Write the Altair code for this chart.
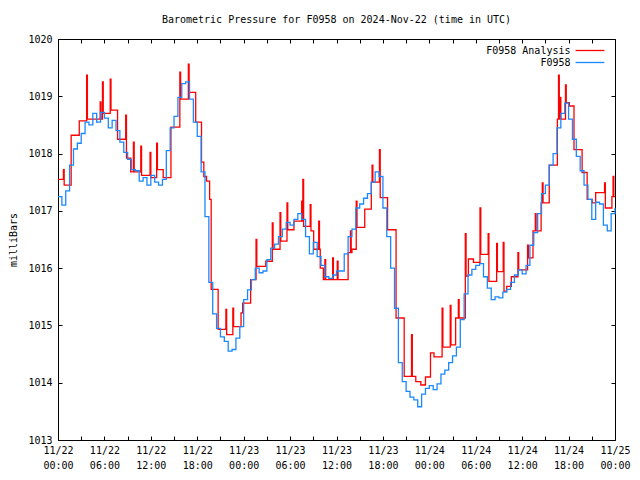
import json
import altair as alt
import pandas as pd

# ---------------- data (hours since 2024-11-22 00:00 UTC) ----------------
blue_step_hours = 0.5
blue_values = [
    1017.25, 1017.10, 1017.35, 1017.80, 1018.08, 1018.18, 1018.35, 1018.55, 1018.50, 1018.70,
    1018.55, 1018.72, 1018.62, 1018.45, 1018.58, 1018.40, 1018.20, 1018.02, 1017.90, 1017.72,
    1017.70, 1017.52, 1017.58, 1017.45, 1017.62, 1017.50, 1017.45, 1017.55, 1018.05, 1018.45,
    1018.65, 1018.98, 1019.22, 1019.25, 1018.95, 1018.55, 1018.30, 1017.68, 1016.90, 1015.75,
    1015.20, 1014.95, 1014.80, 1014.72, 1014.55, 1014.58, 1014.78, 1014.98, 1015.45, 1015.62,
    1015.80, 1016.00, 1015.92, 1015.95, 1016.15, 1016.35, 1016.42, 1016.55, 1016.68, 1016.80,
    1016.75, 1016.85, 1016.95, 1016.85, 1016.55, 1016.25, 1016.45, 1016.20, 1016.05, 1015.85,
    1015.82, 1015.88, 1015.95, 1015.95, 1016.25, 1016.55, 1016.68, 1017.05, 1017.12, 1017.22,
    1017.30, 1017.50, 1017.68, 1017.60, 1017.05, 1016.55, 1016.00, 1015.30, 1014.35, 1014.02,
    1013.85, 1013.75, 1013.70, 1013.58, 1013.80, 1013.90, 1013.95, 1013.88, 1013.98, 1014.15,
    1014.22, 1014.35, 1014.47, 1014.62, 1015.10, 1015.55, 1015.88, 1015.98, 1016.05, 1016.08,
    1015.85, 1015.65, 1015.45, 1015.50, 1015.48, 1015.58, 1015.63, 1015.75, 1015.88, 1015.97,
    1015.90, 1016.05, 1016.40, 1016.62, 1016.95, 1017.30, 1017.45, 1017.80, 1018.00, 1018.45,
    1018.70, 1018.88, 1018.60, 1018.25, 1017.95, 1017.70, 1017.45, 1017.20, 1016.85, 1017.15,
    1017.12, 1016.75, 1016.65, 1016.95, 1017.05,
]
blue_times = [i * blue_step_hours for i in range(len(blue_values))]

red_times = [
    0.0, 0.7, 0.8, 1.7, 2.75, 3.7, 3.8, 5.45, 5.55, 5.75, 5.85, 6.75, 6.85, 7.7, 8.75, 8.85,
    9.4, 9.75, 9.85, 10.7, 10.8, 11.9, 12.0, 12.75, 12.85, 13.6, 14.6, 15.75, 15.85, 16.85,
    16.95, 17.8, 18.55, 18.85, 19.2, 19.6, 19.8, 20.7, 21.7, 21.8, 22.6, 22.7, 23.66, 23.87,
    24.9, 25.6, 25.7, 26.86, 27.7, 27.8, 28.7, 28.8, 29.6, 29.7, 30.5, 31.5, 31.6, 31.65,
    31.75, 32.6, 32.7, 33.05, 33.7, 33.8, 33.9, 34.3, 34.5, 34.6, 35.5, 35.6, 36.1, 36.2,
    37.5, 37.8, 37.9, 38.0, 38.55, 38.65, 39.65, 40.5, 40.6, 40.7, 41.55, 41.65, 42.6, 43.7,
    44.75, 45.7, 45.8, 46.25, 46.9, 47.5, 48.15, 48.6, 49.65, 49.75, 50.7, 50.8, 51.4, 51.75,
    51.85, 52.65, 52.75, 53.05, 53.7, 54.55, 54.65, 55.6, 55.7, 56.7, 56.8, 57.55, 57.65,
    58.0, 58.6, 59.45, 59.55, 60.7, 60.8, 61.4, 61.7, 61.8, 62.45, 62.6, 62.7, 63.5, 64.55,
    64.7, 64.8, 64.9, 65.0, 65.6, 65.7, 66.1, 66.7, 67.75, 68.4, 69.05, 69.5, 70.65, 70.75,
    71.6, 71.75, 71.85, 72.0,
]
red_values = [
    1017.55, 1017.72, 1017.45, 1018.32, 1018.57, 1019.37, 1018.60, 1018.90, 1018.60, 1019.25,
    1018.70, 1019.30, 1018.76, 1018.25, 1018.67, 1017.92,
    1017.68, 1018.20, 1017.68, 1018.13, 1017.62, 1018.02, 1017.58, 1018.18, 1017.72, 1017.58,
    1018.46, 1019.42, 1018.95, 1019.56,
    1019.07, 1018.55, 1017.85, 1017.60, 1017.52, 1017.20, 1015.63, 1014.93, 1015.28, 1014.84,
    1015.30, 1014.98, 1015.22, 1015.39,
    1015.80, 1016.50, 1016.03, 1016.12, 1016.79, 1016.33, 1016.97, 1016.47, 1017.14, 1016.67,
    1016.82, 1017.17, 1016.82, 1017.55,
    1016.73, 1017.11, 1016.65, 1016.33, 1016.82, 1016.33, 1016.00, 1015.80, 1016.15, 1015.80,
    1016.18, 1015.80, 1016.12, 1015.80,
    1016.27, 1016.65, 1016.27, 1016.33, 1017.17, 1016.71, 1017.03, 1017.50, 1017.80, 1017.50,
    1018.07, 1017.23, 1016.67, 1015.13,
    1014.11, 1014.84, 1014.11, 1014.02, 1013.96, 1014.10, 1014.52, 1014.45, 1015.30, 1014.62,
    1015.35, 1014.66, 1015.13, 1015.45,
    1015.13, 1016.60, 1015.86, 1016.16, 1016.10, 1017.05, 1016.24, 1016.60, 1015.77, 1016.43,
    1015.94, 1016.45, 1015.60,
    1015.68, 1015.85, 1016.27, 1015.97, 1016.40, 1016.18, 1016.65, 1016.95, 1016.65, 1017.14,
    1017.49, 1017.14, 1017.80, 1018.60,
    1019.37, 1018.60, 1018.98, 1018.60, 1019.20, 1018.89, 1018.83, 1018.07, 1017.67, 1017.20,
    1017.14, 1017.32, 1017.49, 1017.05,
    1017.25, 1017.60, 1017.25, 1017.25,
]

series_names = ["F0958 Analysis", "F0958"]
series_colors = ["#ff0000", "#1a88ff"]

y_ticks = [1013, 1014, 1015, 1016, 1017, 1018, 1019, 1020]
x_tick_hours = list(range(0, 73, 3))
x_label_hours = list(range(0, 73, 6))
x_tick_labels = [
    "11/22|00:00", "11/22|06:00", "11/22|12:00", "11/22|18:00",
    "11/23|00:00", "11/23|06:00", "11/23|12:00", "11/23|18:00",
    "11/24|00:00", "11/24|06:00", "11/24|12:00", "11/24|18:00",
    "11/25|00:00",
]

title_text = "Barometric Pressure for F0958 on 2024-Nov-22 (time in UTC)"
y_title = "milliBars"

# ---------------- build ----------------
red_df = pd.DataFrame({"t": red_times, "p": red_values, "series": series_names[0]})
blue_df = pd.DataFrame({"t": blue_times, "p": blue_values, "series": series_names[1]})

FONT = "DejaVu Sans Mono"
TICK = 4
W, H = 557, 401

label_expr = (
    "indexof(" + json.dumps(x_label_hours) + ", datum.value) >= 0 ? split("
    + json.dumps(x_tick_labels) + "[indexof(" + json.dumps(x_label_hours)
    + ", datum.value)], '|') : ''"
)

x_scale = alt.Scale(domain=[0, 72], nice=False, zero=False)
y_scale = alt.Scale(domain=[1013, 1020], nice=False, zero=False)
color = alt.Color(
    "series:N",
    scale=alt.Scale(domain=series_names, range=series_colors),
    legend=alt.Legend(
        title=None,
        orient="none",
        legendX=W - 30,
        legendY=6.5,
        symbolType="M-3.6,0H3.6",
        symbolSize=64,
        symbolStrokeWidth=1.3,
        labelAlign="right",
        labelOffset=alt.ExprRef(expr="-24.5"),
        labelFont=FONT,
        labelFontSize=10,
        labelColor="#000000",
        rowPadding=2,
        padding=0,
    ),
)

red = alt.Chart(red_df).mark_line(interpolate="step-after", strokeWidth=1.3).encode(
    x=alt.X(
        "t:Q",
        scale=x_scale,
        axis=alt.Axis(
            orient="bottom", values=x_tick_hours, labelExpr=label_expr, title=None,
            domain=False, grid=False, tickSize=TICK, offset=-TICK, tickColor="#000000",
            labelFont=FONT, labelFontSize=10, labelColor="#000000", labelPadding=5,
            labelLineHeight=15, labelFlush=False, labelOverlap=False,
        ),
    ),
    y=alt.Y(
        "p:Q",
        scale=y_scale,
        axis=alt.Axis(
            orient="left", values=y_ticks, format="d", title=y_title,
            domain=False, grid=False, tickSize=TICK, offset=-TICK, tickColor="#000000",
            labelFont=FONT, labelFontSize=10, labelColor="#000000", labelPadding=6,
            titleFont=FONT, titleFontSize=10, titleFontWeight="normal", titleColor="#000000",
            titlePadding=9,
        ),
    ),
    color=color,
)

blue = alt.Chart(blue_df).mark_line(interpolate="step-after", strokeWidth=1.3).encode(
    x=alt.X(
        "t:Q",
        scale=x_scale,
        axis=alt.Axis(
            orient="top", values=x_tick_hours, labels=False, title=None, domain=False,
            grid=False, tickSize=TICK, offset=-TICK, tickColor="#000000",
        ),
    ),
    y=alt.Y(
        "p:Q",
        scale=y_scale,
        axis=alt.Axis(
            orient="right", values=y_ticks, labels=False, title=None, domain=False,
            grid=False, tickSize=TICK, offset=-TICK, tickColor="#000000",
        ),
    ),
    color=color,
)

chart = (
    alt.layer(red, blue)
    .resolve_axis(x="independent", y="independent")
    .properties(
        width=W,
        height=H,
        padding={"left": 50, "top": 31, "right": 17, "bottom": 32},
        autosize=alt.AutoSizeParams(type="none"),
        title=alt.TitleParams(
            text=title_text, font=FONT, fontSize=10, fontWeight="normal",
            color="#000000", anchor="middle", baseline="bottom", offset=0, dy=1,
        ),
        background="#ffffff",
    )
    .configure_view(stroke="#000000", strokeWidth=1)
)

chart.save("out.html", embed_options={"renderer": "svg", "actions": False})
